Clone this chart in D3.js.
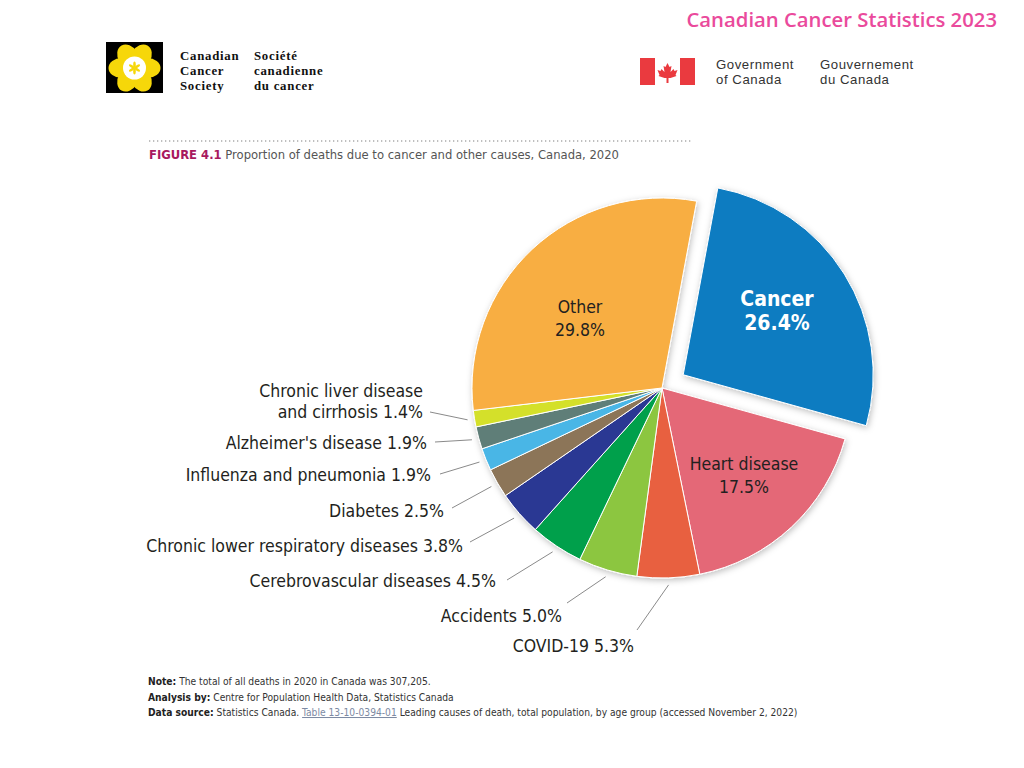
<!DOCTYPE html>
<html>
<head>
<meta charset="utf-8">
<script src="https://cdn.jsdelivr.net/npm/d3@7"></script>
<style>
  html, body { margin: 0; padding: 0; background: #fff; }
  svg { display: block; }
</style>
</head>
<body>
<svg id="chart" width="1024" height="768"></svg>
<script>
// ---------- DATA ----------
const categories = ["Cancer", "Heart disease", "COVID-19", "Accidents", "Cerebrovascular diseases",
  "Chronic lower respiratory diseases", "Diabetes", "Influenza and pneumonia",
  "Alzheimer's disease", "Chronic liver disease and cirrhosis", "Other"];
const values = [26.4, 17.5, 5.3, 5.0, 4.5, 3.8, 2.5, 1.9, 1.9, 1.4, 29.8];
const sliceColors = ["#0a7bc1", "#e46877", "#e8613f", "#8cc63f", "#00a04b", "#2b3893",
  "#8c7558", "#48b6e6", "#5f7e78", "#d4e029", "#f8ae42"];
const insideLabels = [["Cancer", "26.4%"], ["Heart disease", "17.5%"], ["Other", "29.8%"]];
const outsideLabels = [["COVID-19 5.3%"], ["Accidents 5.0%"], ["Cerebrovascular diseases 4.5%"],
  ["Chronic lower respiratory diseases 3.8%"], ["Diabetes 2.5%"], ["Influenza and pneumonia 1.9%"],
  ["Alzheimer's disease 1.9%"], ["Chronic liver disease", "and cirrhosis 1.4%"]];
const headerTitle = "Canadian Cancer Statistics 2023";
const figureTag = "FIGURE 4.1";
const figureTitle = "Proportion of deaths due to cancer and other causes, Canada, 2020";
const notes = [
  ["Note:", " The total of all deaths in 2020 in Canada was 307,205."],
  ["Analysis by:", " Centre for Population Health Data, Statistics Canada"],
  ["Data source:", " Statistics Canada. ", "Table 13-10-0394-01", " Leading causes of death, total population, by age group (accessed November 2, 2022)"]
];

// ---------- LAYOUT ----------
const svg = d3.select("#chart");
svg.append("rect").attr("width", 1024).attr("height", 768).attr("fill", "#fff");
const narrow = "'Liberation Sans Narrow', 'DejaVu Sans Condensed', 'Roboto Condensed', sans-serif";

const cx = 662, cy = 388, R = 190;
const rot = 10.5 * Math.PI / 180;
const explode = 25;

const defs = svg.append("defs");
const f = defs.append("filter").attr("id", "shadow").attr("x", "-20%").attr("y", "-20%").attr("width", "140%").attr("height", "140%");
f.append("feDropShadow").attr("dx", 1).attr("dy", 2).attr("stdDeviation", 3).attr("flood-color", "#000").attr("flood-opacity", 0.25);

// Header
svg.append("text").attr("x", 997).attr("y", 27).attr("text-anchor", "end")
  .attr("font-family", "'Open Sans', 'DejaVu Sans', sans-serif").attr("font-weight", 600)
  .attr("font-size", 20.3).attr("fill", "#ea4a9c").text(headerTitle);

// CCS logo
const logo = svg.append("g").attr("transform", "translate(106,42)");
logo.append("rect").attr("width", 57).attr("height", 51).attr("fill", "#000");
const fl = logo.append("g").attr("transform", "translate(28.5,26)");
d3.range(6).forEach(i => {
  fl.append("ellipse").attr("cx", 0).attr("cy", -13).attr("rx", 10).attr("ry", 13)
    .attr("fill", "#f6d70a").attr("transform", `rotate(${i * 60 + 30})`);
});
fl.append("circle").attr("r", 11.5).attr("fill", "#fff");
d3.range(6).forEach(i => {
  fl.append("ellipse").attr("cx", 0).attr("cy", -3.2).attr("rx", 1.3).attr("ry", 3.2)
    .attr("fill", "#f6d70a").attr("transform", `rotate(${i * 60})`);
});
const serif = "'Liberation Serif', 'DejaVu Serif', serif";
[["Canadian", "Cancer", "Society"], ["Société", "canadienne", "du cancer"]].forEach((col, ci) => {
  col.forEach((t, i) => {
    svg.append("text").attr("x", ci ? 254 : 180).attr("y", 60 + i * 14.8)
      .attr("font-family", serif).attr("font-size", 12.8).attr("font-weight", 600)
      .attr("letter-spacing", 0.75).attr("fill", "#111").text(t);
  });
});

// Government of Canada logo
const gov = svg.append("g").attr("transform", "translate(640,58)");
gov.append("rect").attr("x", 0).attr("width", 15).attr("height", 27).attr("fill", "#ea3a3f");
gov.append("rect").attr("x", 40).attr("width", 15).attr("height", 27).attr("fill", "#ea3a3f");
gov.append("path").attr("transform", "translate(27.5,14)")
  .attr("d", "M0,-9 L2,-5 L4,-6 L3,0 L6,-3 L7,-1 L10,-2 L8,3 L9,4 L3,6 L1,6 L1,11 L-1,11 L-1,6 L-3,6 L-9,4 L-8,3 L-10,-2 L-7,-1 L-6,-3 L-3,0 L-4,-6 L-2,-5 Z")
  .attr("fill", "#ea3a3f");
[["Government", "of Canada"], ["Gouvernement", "du Canada"]].forEach((col, ci) => {
  col.forEach((t, i) => {
    svg.append("text").attr("x", ci ? 820 : 716).attr("y", 69 + i * 15)
      .attr("font-family", "'Liberation Sans', Arial, sans-serif").attr("font-size", 13.2)
      .attr("letter-spacing", 0.55).attr("fill", "#333").text(t);
  });
});

// Dotted rule + figure title
svg.append("line").attr("x1", 149).attr("x2", 693).attr("y1", 141).attr("y2", 141)
  .attr("stroke", "#aaa").attr("stroke-width", 1.3).attr("stroke-dasharray", "1.3,2.7");
const tt = svg.append("text").attr("x", 149).attr("y", 159)
  .attr("font-family", narrow).attr("font-size", 12.9).attr("fill", "#555");
tt.append("tspan").attr("font-weight", 700).attr("fill", "#a8195e").text(figureTag);
tt.append("tspan").text(" " + figureTitle);

// ---------- PIE ----------
const pie = d3.pie().sort(null).value(d => d).startAngle(rot).endAngle(rot + 2 * Math.PI);
const arcs = pie(values);
const arc = d3.arc().innerRadius(0).outerRadius(R);
const color = d3.scaleOrdinal().domain(categories).range(sliceColors);

const pg = svg.append("g").attr("transform", `translate(${cx},${cy})`);
const slices = pg.append("g").attr("filter", "url(#shadow)");
slices.selectAll("path").data(arcs).join("path")
  .attr("d", arc)
  .attr("fill", (d, i) => color(categories[i]))
  .attr("stroke", "#fff").attr("stroke-width", 1)
  .attr("transform", (d, i) => {
    if (i !== 0) return null;
    const a = (d.startAngle + d.endAngle) / 2;
    return `translate(${explode * Math.sin(a)},${-explode * Math.cos(a)})`;
  });

// Inside labels (absolute layout)
const insidePos = [{x: 777, y: 306, size: 21, gap: 23.5, bold: true, fill: "#fff"},
                   {x: 744, y: 470, size: 17.5, gap: 23, bold: false, fill: "#231f20"},
                   {x: 580, y: 313, size: 17.5, gap: 23, bold: false, fill: "#231f20"}];
insideLabels.forEach((lines, i) => {
  const p = insidePos[i];
  lines.forEach((t, j) => {
    svg.append("text").attr("x", p.x).attr("y", p.y + j * p.gap)
      .attr("text-anchor", "middle").attr("font-family", narrow)
      .attr("font-size", p.size).attr("font-weight", p.bold ? 700 : 400)
      .attr("fill", p.fill).text(t);
  });
});

// Outside labels with leader lines (slices 2..9)
const outsidePos = [
  {tx: 634, ty: 652, lx: 637, ly: 630},
  {tx: 562, ty: 622, lx: 567, ly: 603},
  {tx: 496, ty: 587, lx: 507, ly: 580},
  {tx: 463, ty: 552, lx: 470, ly: 542},
  {tx: 444, ty: 517, lx: 452, ly: 508},
  {tx: 431, ty: 481, lx: 440, ly: 474},
  {tx: 427, ty: 449, lx: 435, ly: 442},
  {tx: 423, ty: 397, lx: 430, ly: 412}
];
const rLine = R + 7;
outsideLabels.forEach((lines, k) => {
  const d = arcs[k + 2];
  const a = (d.startAngle + d.endAngle) / 2;
  const p = outsidePos[k];
  svg.append("line")
    .attr("x1", cx + rLine * Math.sin(a)).attr("y1", cy - rLine * Math.cos(a))
    .attr("x2", p.lx).attr("y2", p.ly)
    .attr("stroke", "#8a8a8a").attr("stroke-width", 1);
  lines.forEach((t, j) => {
    svg.append("text").attr("x", p.tx).attr("y", p.ty + j * 21)
      .attr("text-anchor", "end").attr("font-family", narrow)
      .attr("font-size", 17.5).attr("fill", "#231f20").text(t);
  });
});

// ---------- NOTES ----------
notes.forEach((parts, i) => {
  const t = svg.append("text").attr("x", 148).attr("y", 685 + i * 15.5)
    .attr("font-family", narrow).attr("font-size", 10.2).attr("fill", "#333");
  parts.forEach((p, j) => {
    const ts = t.append("tspan").text(p);
    if (j === 0) ts.attr("font-weight", 700).attr("fill", "#222");
    if (i === 2 && j === 2) ts.attr("fill", "#7d8aa3").attr("text-decoration", "underline");
  });
});
</script>
</body>
</html>
